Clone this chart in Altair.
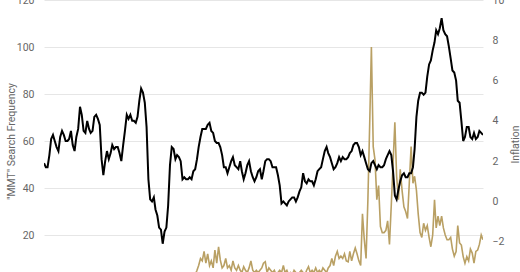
import altair as alt
import pandas as pd

# Monthly, Jan 2004 .. May 2024
inflation = [
    1.9, 1.7, 1.7, 2.3, 3.1, 3.3, 3.0, 2.7, 2.5, 3.2, 3.5, 3.3,   # 2004
    3.0, 3.0, 3.1, 3.5, 2.8, 2.5, 3.2, 3.6, 4.7, 4.3, 3.5, 3.4,   # 2005
    4.0, 3.6, 3.4, 3.5, 4.2, 4.3, 4.1, 3.8, 2.1, 1.3, 2.0, 2.5,   # 2006
    2.1, 2.4, 2.8, 2.6, 2.7, 2.7, 2.4, 2.0, 2.8, 3.5, 4.3, 4.1,   # 2007
    4.3, 4.0, 4.0, 3.9, 4.2, 5.0, 5.6, 5.4, 4.9, 3.7, 1.1, 0.1,   # 2008
    0.0, 0.2, -0.4, -0.7, -1.3, -1.4, -2.1, -1.5, -1.3, -0.2, 1.8, 2.7,  # 2009
    2.6, 2.1, 2.3, 2.2, 2.0, 1.1, 1.2, 1.1, 1.1, 1.2, 1.1, 1.5,   # 2010
    1.6, 2.1, 2.7, 3.2, 3.6, 3.6, 3.6, 3.8, 3.9, 3.5, 3.4, 3.0,   # 2011
    2.9, 2.9, 2.7, 2.3, 1.7, 1.7, 1.4, 1.7, 2.0, 2.2, 1.8, 1.7,   # 2012
    1.6, 2.0, 1.5, 1.1, 1.4, 1.8, 2.0, 1.5, 1.2, 1.0, 1.2, 1.5,   # 2013
    1.6, 1.1, 1.5, 2.0, 2.1, 2.1, 2.0, 1.7, 1.7, 1.7, 1.3, 0.8,   # 2014
    -0.1, 0.0, -0.1, -0.2, 0.0, 0.1, 0.2, 0.2, 0.0, 0.2, 0.5, 0.7,  # 2015
    1.4, 1.0, 0.9, 1.1, 1.0, 1.0, 0.8, 1.1, 1.5, 1.6, 1.7, 2.1,   # 2016
    2.5, 2.7, 2.4, 2.2, 1.9, 1.6, 1.7, 1.9, 2.2, 2.0, 2.2, 2.1,   # 2017
    2.1, 2.2, 2.4, 2.5, 2.8, 2.9, 2.9, 2.7, 2.3, 2.5, 2.2, 1.9,   # 2018
    1.6, 1.5, 1.9, 2.0, 1.8, 1.6, 1.8, 1.7, 1.7, 1.8, 2.1, 2.3,   # 2019
    2.5, 2.3, 1.5, 0.3, 0.1, 0.6, 1.0, 1.3, 1.4, 1.2, 1.2, 1.4,   # 2020
    1.4, 1.7, 2.6, 4.2, 5.0, 5.4, 5.4, 5.3, 5.4, 6.2, 6.8, 7.0,   # 2021
    7.5, 7.9, 8.5, 8.3, 8.6, 9.1, 8.5, 8.3, 8.2, 7.7, 7.1, 6.5,   # 2022
    6.4, 6.0, 5.0, 4.9, 4.0, 3.0, 3.2, 3.7, 3.7, 3.2, 3.1, 3.4,   # 2023
    3.1, 3.2, 3.5, 3.4, 3.3,                                      # 2024
]

mmt_search = [
    3, 3, 2, 3, 3, 2, 3, 3, 2, 3, 2, 3,        # 2004
    3, 2, 3, 3, 2, 3, 2, 3, 3, 2, 3, 2,        # 2005
    2, 3, 2, 3, 2, 2, 3, 2, 3, 2, 2, 3,        # 2006
    2, 2, 3, 2, 3, 2, 2, 3, 2, 2, 3, 2,        # 2007
    2, 3, 2, 2, 3, 2, 3, 2, 2, 3, 3, 2,        # 2008
    3, 2, 3, 2, 2, 3, 2, 3, 3, 2, 3, 3,        # 2009
    3, 3, 2, 3, 3, 2, 3, 3, 2, 3, 3, 3,        # 2010
    3, 5, 7, 10, 9, 13, 8, 12, 7, 9, 6, 13.6,  # 2011
    8, 15, 9.4, 6, 7, 10, 6, 7, 5, 9, 6, 5,    # 2012
    7, 5, 4, 6.5, 5, 4, 6, 9, 5, 4, 5, 4,      # 2013
    5, 6, 8, 8.6, 4, 6, 5, 4, 5, 3, 4, 5,      # 2014
    4, 7, 4, 5, 3, 4, 3, 5, 4, 3, 4, 5,        # 2015
    4, 3, 5, 6.5, 4, 5, 4, 6, 4, 5, 4, 6,      # 2016
    5, 4, 6, 7, 10, 7, 11, 13, 10, 11, 10, 12, # 2017
    9, 8.6, 13, 9, 12, 14.5, 12, 9, 7, 29, 18, 10,      # 2018
    35, 68, 100, 57.6, 52, 35, 41, 23.6, 21, 21, 22, 26,  # 2019
    16, 33, 50, 68, 45, 35, 48, 39, 32, 30, 27, 42,      # 2020
    57.6, 42, 45, 39, 29, 21, 19, 25, 22, 24, 19, 15,    # 2021
    20, 35, 23, 28, 24, 28, 23, 20, 18, 18, 19, 14,      # 2022
    11, 13, 24, 16.6, 15.7, 10.8, 8, 10.8, 9, 14, 12.3, 8,  # 2023
    13, 13.6, 16, 20, 18,                                # 2024
]

months = pd.date_range("2004-01-01", periods=len(inflation), freq="MS")
df = pd.DataFrame({"date": months, "inflation": inflation, "mmt": mmt_search})

FONT = "Roboto"
LABEL_COLOR = "#666666"
PLOT_H = 272
FULL_H = 282.0
left_min = 120 * (1 - PLOT_H / FULL_H)
right_min = 10 - 14 * PLOT_H / FULL_H

x = alt.X("date:T", axis=None,
          scale=alt.Scale(domain=[months[0].isoformat(), months[-1].isoformat()], nice=False))

gold = alt.Chart(df).mark_line(color="#b9a064", strokeWidth=1.6, clip=True).encode(
    x=x,
    y=alt.Y("mmt:Q",
            scale=alt.Scale(domain=[left_min, 120], nice=False, zero=False),
            axis=alt.Axis(orient="left", values=[20, 40, 60, 80, 100, 120],
                          title='"MMT" Search Frequency', grid=True,
                          gridColor="#e6e6e6", gridWidth=1, domain=False, ticks=False,
                          labelPadding=10, labelColor=LABEL_COLOR, labelFontSize=10.5,
                          labelFont=FONT, titleFont=FONT, titleFontSize=10.5,
                          titleFontWeight="normal", titleColor=LABEL_COLOR,
                          titleAngle=270, titleAlign="center", titleBaseline="middle",
                          titleX=-33, titleY=141)),
)

black = alt.Chart(df).mark_line(color="#000000", strokeWidth=2, clip=True).encode(
    x=x,
    y=alt.Y("inflation:Q",
            scale=alt.Scale(domain=[right_min, 10], nice=False, zero=False),
            axis=alt.Axis(orient="right", values=[-2, 0, 2, 4, 6, 8, 10],
                          title="Inflation", grid=False, domain=False, ticks=False,
                          labelPadding=9, labelColor=LABEL_COLOR, labelFontSize=10.5,
                          labelFont=FONT, titleFont=FONT, titleFontSize=10.5,
                          titleFontWeight="normal", titleColor=LABEL_COLOR,
                          titleAngle=270, titleAlign="center", titleBaseline="middle",
                          titleX=32, titleY=144)),
)

chart = alt.layer(gold, black).resolve_scale(y="independent").properties(
    width=439,
    height=PLOT_H,
    autosize=alt.AutoSizeParams(type="none"),
    padding={"left": 44, "top": 0, "right": 37, "bottom": 0},
).configure_view(stroke=None)

chart.save("out.html", embed_options={"renderer": "svg", "actions": False})
